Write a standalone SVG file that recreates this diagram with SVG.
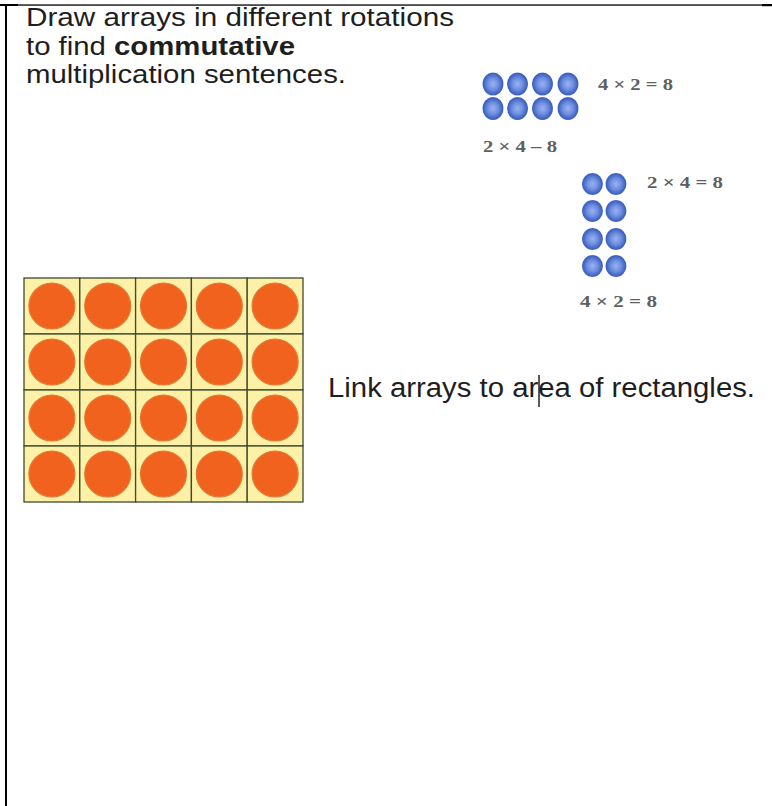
<svg xmlns="http://www.w3.org/2000/svg" width="772" height="806" viewBox="0 0 772 806">
  <defs>
    <radialGradient id="blueBead" cx="50%" cy="50%" r="55%">
      <stop offset="0" stop-color="#9bb2f2"/>
      <stop offset="0.45" stop-color="#6f8fe0"/>
      <stop offset="0.85" stop-color="#3c5fbf"/>
      <stop offset="1" stop-color="#5a78c8" stop-opacity="0.6"/>
    </radialGradient>
    <style>
      .txt { font-family: "Liberation Sans", Arial, sans-serif; fill: #1e1e1e; }
      .eq { font-family: "Liberation Serif", "Times New Roman", serif; font-weight: bold; font-size: 17px; fill: #5f5f5f; }
      .bead { fill: url(#blueBead); }
      .cell { fill: #fcf1a6; stroke: #3f4a30; stroke-width: 1.3; }
      .dot { fill: #f1621f; stroke: #e07a35; stroke-width: 1.2; }
    </style>
  </defs>
  <rect width="772" height="806" fill="#ffffff"/>

  <g id="border">
    <rect x="0" y="4" width="18" height="2" fill="#000"/>
    <rect x="0" y="4.4" width="772" height="1.3" fill="#000"/>
    <rect x="762" y="4" width="10" height="2.2" fill="#000"/>
    <rect x="5" y="4" width="2" height="802" fill="#000"/>
  </g>

  <g id="instruction-text">
    <text class="txt" x="26" y="26" font-size="26" textLength="428" lengthAdjust="spacingAndGlyphs">Draw arrays in different rotations</text>
    <text class="txt" x="26" y="54.5" font-size="26" textLength="269" lengthAdjust="spacingAndGlyphs">to find <tspan font-weight="bold">commutative</tspan></text>
    <text class="txt" x="26" y="82.5" font-size="26" textLength="320" lengthAdjust="spacingAndGlyphs">multiplication sentences.</text>
  </g>

  <g id="array-4x2">
    <ellipse class="bead" cx="493" cy="84" rx="10.5" ry="11.5"/>
    <ellipse class="bead" cx="517.5" cy="84" rx="10.5" ry="11.5"/>
    <ellipse class="bead" cx="542.5" cy="84" rx="10.5" ry="11.5"/>
    <ellipse class="bead" cx="568" cy="84" rx="10.5" ry="11.5"/>
    <ellipse class="bead" cx="493" cy="108.5" rx="10.5" ry="11.5"/>
    <ellipse class="bead" cx="517.5" cy="108.5" rx="10.5" ry="11.5"/>
    <ellipse class="bead" cx="542.5" cy="108.5" rx="10.5" ry="11.5"/>
    <ellipse class="bead" cx="568" cy="108.5" rx="10.5" ry="11.5"/>
    <text class="eq" x="598" y="90" textLength="75" lengthAdjust="spacingAndGlyphs">4 × 2 = 8</text>
    <text class="eq" x="483" y="152" textLength="74" lengthAdjust="spacingAndGlyphs">2 × 4 – 8</text>
  </g>

  <g id="array-2x4">
    <ellipse class="bead" cx="592.5" cy="184" rx="10.5" ry="11"/>
    <ellipse class="bead" cx="616" cy="184" rx="10.5" ry="11"/>
    <ellipse class="bead" cx="592.5" cy="211" rx="10.5" ry="11"/>
    <ellipse class="bead" cx="616" cy="211" rx="10.5" ry="11"/>
    <ellipse class="bead" cx="592.5" cy="239" rx="10.5" ry="11"/>
    <ellipse class="bead" cx="616" cy="239" rx="10.5" ry="11"/>
    <ellipse class="bead" cx="592.5" cy="266" rx="10.5" ry="11"/>
    <ellipse class="bead" cx="616" cy="266" rx="10.5" ry="11"/>
    <text class="eq" x="647" y="188" textLength="76" lengthAdjust="spacingAndGlyphs">2 × 4 = 8</text>
    <text class="eq" x="580" y="307" textLength="77" lengthAdjust="spacingAndGlyphs">4 × 2 = 8</text>
  </g>

  <g id="rectangle-array">
    <rect class="cell" x="24" y="278" width="55.8" height="56"/>
    <rect class="cell" x="79.8" y="278" width="55.8" height="56"/>
    <rect class="cell" x="135.6" y="278" width="55.8" height="56"/>
    <rect class="cell" x="191.4" y="278" width="55.8" height="56"/>
    <rect class="cell" x="247.2" y="278" width="55.8" height="56"/>
    <rect class="cell" x="24" y="334" width="55.8" height="56"/>
    <rect class="cell" x="79.8" y="334" width="55.8" height="56"/>
    <rect class="cell" x="135.6" y="334" width="55.8" height="56"/>
    <rect class="cell" x="191.4" y="334" width="55.8" height="56"/>
    <rect class="cell" x="247.2" y="334" width="55.8" height="56"/>
    <rect class="cell" x="24" y="390" width="55.8" height="56"/>
    <rect class="cell" x="79.8" y="390" width="55.8" height="56"/>
    <rect class="cell" x="135.6" y="390" width="55.8" height="56"/>
    <rect class="cell" x="191.4" y="390" width="55.8" height="56"/>
    <rect class="cell" x="247.2" y="390" width="55.8" height="56"/>
    <rect class="cell" x="24" y="446" width="55.8" height="56"/>
    <rect class="cell" x="79.8" y="446" width="55.8" height="56"/>
    <rect class="cell" x="135.6" y="446" width="55.8" height="56"/>
    <rect class="cell" x="191.4" y="446" width="55.8" height="56"/>
    <rect class="cell" x="247.2" y="446" width="55.8" height="56"/>
    <circle class="dot" cx="51.9" cy="306" r="23"/>
    <circle class="dot" cx="107.7" cy="306" r="23"/>
    <circle class="dot" cx="163.5" cy="306" r="23"/>
    <circle class="dot" cx="219.3" cy="306" r="23"/>
    <circle class="dot" cx="275.1" cy="306" r="23"/>
    <circle class="dot" cx="51.9" cy="362" r="23"/>
    <circle class="dot" cx="107.7" cy="362" r="23"/>
    <circle class="dot" cx="163.5" cy="362" r="23"/>
    <circle class="dot" cx="219.3" cy="362" r="23"/>
    <circle class="dot" cx="275.1" cy="362" r="23"/>
    <circle class="dot" cx="51.9" cy="418" r="23"/>
    <circle class="dot" cx="107.7" cy="418" r="23"/>
    <circle class="dot" cx="163.5" cy="418" r="23"/>
    <circle class="dot" cx="219.3" cy="418" r="23"/>
    <circle class="dot" cx="275.1" cy="418" r="23"/>
    <circle class="dot" cx="51.9" cy="474" r="23"/>
    <circle class="dot" cx="107.7" cy="474" r="23"/>
    <circle class="dot" cx="163.5" cy="474" r="23"/>
    <circle class="dot" cx="219.3" cy="474" r="23"/>
    <circle class="dot" cx="275.1" cy="474" r="23"/>
  </g>

  <g id="link-text">
    <text class="txt" x="328" y="397" font-size="27" textLength="427" lengthAdjust="spacingAndGlyphs">Link arrays to area of rectangles.</text>
    <line x1="539" y1="375" x2="539" y2="407" stroke="#000" stroke-width="1.3"/>
  </g>
</svg>
